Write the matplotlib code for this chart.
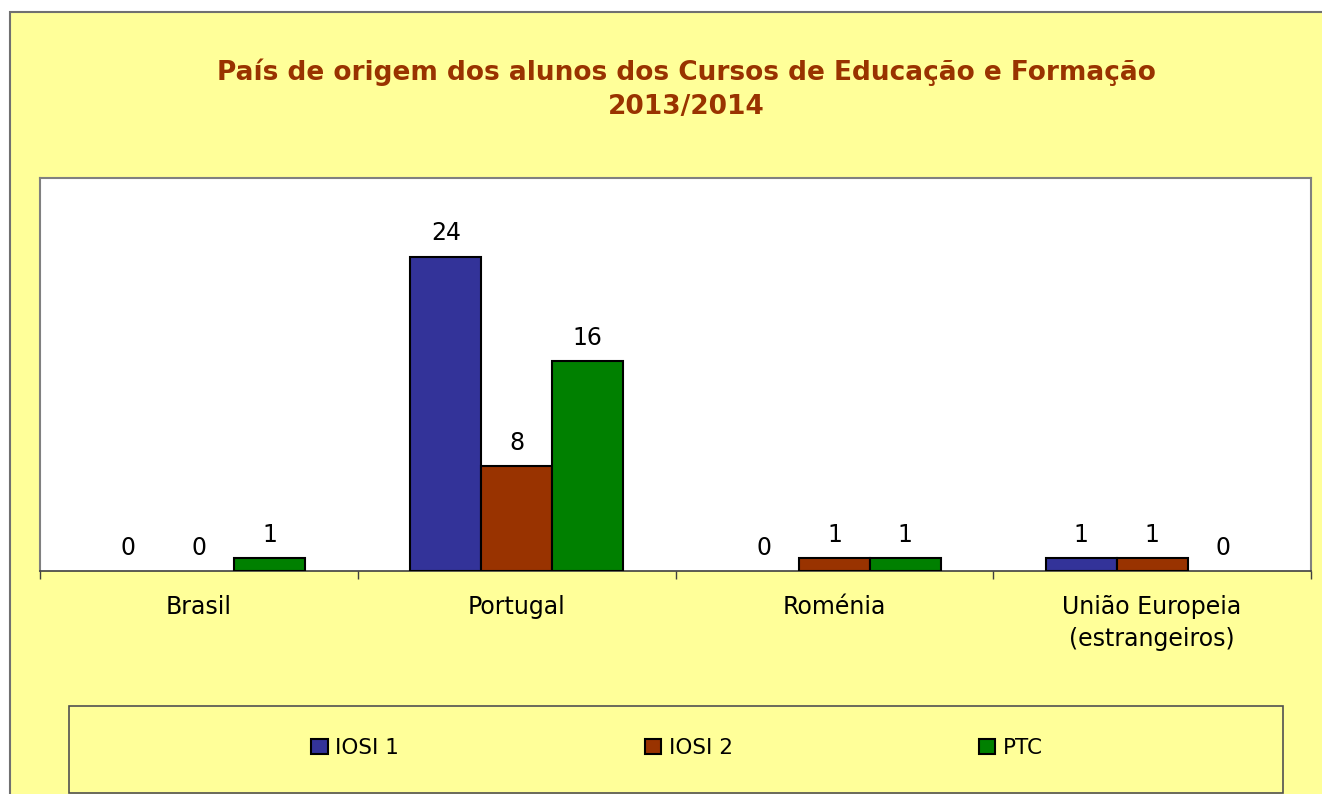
import matplotlib
matplotlib.use("Agg")
import matplotlib.pyplot as plt
from matplotlib.patches import Rectangle
import numpy as np

categories = ["Brasil", "Portugal", "Roménia", "União Europeia\n(estrangeiros)"]
series_names = ["IOSI 1", "IOSI 2", "PTC"]
iosi1 = [0, 24, 0, 1]
iosi2 = [0, 8, 1, 1]
ptc = [1, 16, 1, 0]
colors = ["#333399", "#993300", "#008000"]
title = "País de origem dos alunos dos Cursos de Educação e Formação\n2013/2014"

W, H = 1322, 794
plt.rcParams['font.family'] = ['DejaVu Sans']
fig = plt.figure(figsize=(W / 100, H / 100), dpi=100)
fig.patch.set_facecolor("white")

def fx(px):
    return px / W

def fy(py):
    return 1 - py / H

# outer chart area
fig.patches.append(Rectangle((fx(10), fy(800)), fx(1330) - fx(10), fy(12) - fy(800),
                             transform=fig.transFigure, facecolor="#FFFF99",
                             edgecolor="#707070", linewidth=1.5, zorder=0))
# legend box
fig.patches.append(Rectangle((fx(69), fy(793)), fx(1283) - fx(69), fy(706) - fy(793),
                             transform=fig.transFigure, facecolor="#FFFF99",
                             edgecolor="#505050", linewidth=1.2, zorder=1))

ax = fig.add_axes([fx(40), fy(571), fx(1311) - fx(40), fy(178) - fy(571)])
ax.set_zorder(5)
ax.set_facecolor("white")

x = np.arange(len(categories))
bw = 0.223
all_series = [iosi1, iosi2, ptc]
handles = []
for i, (vals, c, name) in enumerate(zip(all_series, colors, series_names)):
    bars = ax.bar(x + (i - 1) * bw, vals, width=bw, color=c, edgecolor="black",
                  linewidth=1.5, label=name, zorder=3)
    for b, v in zip(bars, vals):
        if v == 0:
            b.set_linewidth(0)
    handles.append(bars)
    for xi, v in zip(x + (i - 1) * bw, vals):
        ax.annotate(str(v), (xi, v), xytext=(0, 8), textcoords="offset points",
                    ha="center", va="bottom", fontsize=17, color="black")

ax.set_xlim(-0.5, len(categories) - 0.5)
ax.set_ylim(0, 30)
ax.set_yticks([])
ax.set_xticks(x)
ax.set_xticklabels(categories, fontsize=17, linespacing=1.45)
ax.tick_params(axis="x", which="major", length=0, pad=17)
ax.set_xticks(np.arange(-0.5, len(categories)), minor=True)
ax.tick_params(axis="x", which="minor", length=6, width=1, direction="out", color="#404040")
for s in ["top", "right", "left"]:
    ax.spines[s].set_color("#808080")
    ax.spines[s].set_linewidth(1.5)
ax.spines["bottom"].set_color("#404040")
ax.spines["bottom"].set_linewidth(1.2)

fig.text(fx(686), fy(89), title, ha="center", va="center", fontsize=19,
         fontweight="bold", color="#993300", linespacing=1.4)

leg = fig.legend(handles=handles, labels=series_names, loc="center",
                 bbox_to_anchor=(fx(677), fy(748)), ncol=3, frameon=False,
                 fontsize=15.5, handlelength=0.75, handleheight=0.75,
                 handletextpad=0.35, columnspacing=11.43)
leg.set_zorder(6)
for h in leg.legend_handles:
    h.set_linewidth(1.5)

fig.savefig("out.png", dpi=100, facecolor=fig.get_facecolor())
